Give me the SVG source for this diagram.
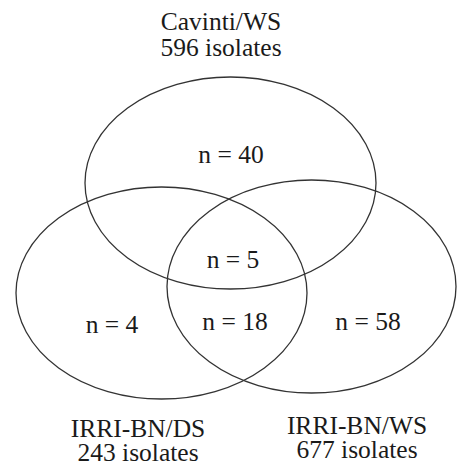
<svg xmlns="http://www.w3.org/2000/svg" width="457" height="466" viewBox="0 0 457 466">
<style>
.set{fill:none;stroke:#333;stroke-width:1.3}
text{font-family:"Liberation Serif","Times New Roman",serif;font-size:25.5px;fill:#1a1a1a;text-anchor:middle}
</style>
<rect width="457" height="466" fill="#fff"/>
<g id="sets">
<g id="cavinti"><ellipse class="set" cx="230.5" cy="183" rx="145.5" ry="106"/>
<text x="221" y="30">Cavinti/WS</text><text x="221" y="56">596 isolates</text></g>
<g id="irri-ds"><ellipse class="set" cx="161.5" cy="293" rx="145.5" ry="106"/>
<text x="138" y="437">IRRI-BN/DS</text><text x="138" y="461">243 isolates</text></g>
<g id="irri-ws"><ellipse class="set" cx="311.5" cy="286.5" rx="144.5" ry="106.5"/>
<text x="357" y="434">IRRI-BN/WS</text><text x="357" y="458">677 isolates</text></g>
</g>
<g id="counts">
<text x="231" y="163">n = 40</text>
<text x="233" y="268">n = 5</text>
<text x="112" y="333">n = 4</text>
<text x="235" y="330">n = 18</text>
<text x="368" y="330">n = 58</text>
</g>
<g id="connectors"/>
</svg>
